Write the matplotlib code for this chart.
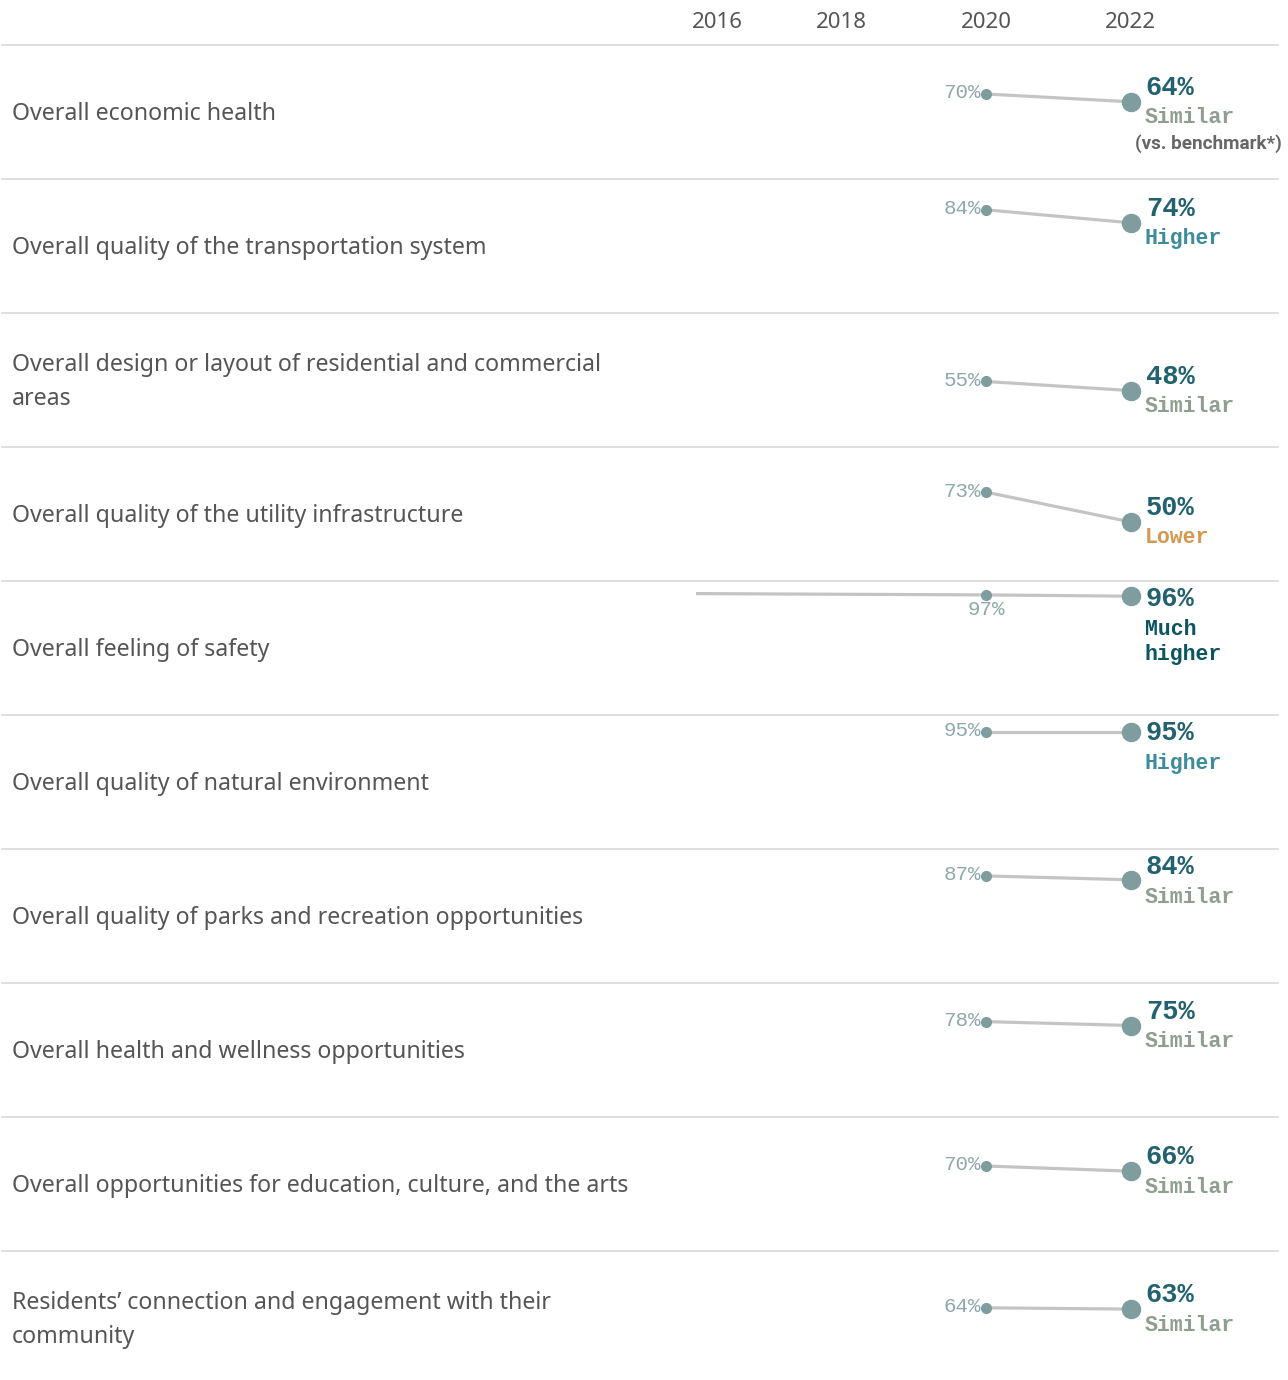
import matplotlib.pyplot as plt
from matplotlib.lines import Line2D

# data
categories = [
    "Overall economic health",
    "Overall quality of the transportation system",
    "Overall design or layout of residential and commercial\nareas",
    "Overall quality of the utility infrastructure",
    "Overall feeling of safety",
    "Overall quality of natural environment",
    "Overall quality of parks and recreation opportunities",
    "Overall health and wellness opportunities",
    "Overall opportunities for education, culture, and the arts",
    "Residents\u2019 connection and engagement with their\ncommunity",
]
v2016 = [None, None, None, None, 98, None, None, None, None, None]
v2020 = [70, 84, 55, 73, 97, 95, 87, 78, 70, 64]
v2022 = [64, 74, 48, 50, 96, 95, 84, 75, 66, 63]
status = ["Similar", "Higher", "Similar", "Lower", "Much\nhigher",
          "Higher", "Similar", "Similar", "Similar", "Similar"]
years = [2016, 2018, 2020, 2022]

status_colors = {"Similar": "#8e9f8f", "Higher": "#3d8c9c",
                 "Lower": "#d4994f", "Much\nhigher": "#0d5560"}

LINE = "#c4c4c4"
DOT = "#7f9c9e"
SMALL = "#8fa9aa"
BIG = "#22616f"
TEXT = "#555555"
SEP = "#d9d9d9"
SANS = ["Noto Sans", "DejaVu Sans"]
BOLD_SANS = ["Roboto", "DejaVu Sans"]
MONO = ["Liberation Mono", "DejaVu Sans Mono"]

W, H = 1288, 1380
fig = plt.figure(figsize=(W / 100, H / 100), dpi=100)

def px_rect(left, top, width, height):
    return [left / W, 1 - (top + height) / H, width / W, height / H]

P = 0.72  # pixels -> points at dpi 100
X0, X1 = 688, 1278
ROW_TOP, ROW_H = 45, 134
xlim = (2015.89, 2024.03)
ylim = (4.6, 107.7)

axes = []
for i, cat in enumerate(categories):
    top = ROW_TOP + i * ROW_H
    ax = fig.add_axes(px_rect(X0, top, X1 - X0, ROW_H))
    ax.set_xlim(xlim)
    ax.set_ylim(ylim)
    ax.axis("off")
    axes.append(ax)

    xs, ys = [], []
    for yr, vals in [(2016, v2016), (2020, v2020), (2022, v2022)]:
        if vals[i] is not None:
            xs.append(yr)
            ys.append(vals[i])
    ax.plot(xs, ys, color=LINE, lw=2.3, solid_capstyle="butt", zorder=1)
    ax.plot(2020, v2020[i], "o", ms=7, color=DOT, zorder=2)
    ax.plot(2022, v2022[i], "o", ms=13, color=DOT, zorder=2, clip_on=False)

    # 2020 label
    if v2016[i] is not None:
        ax.annotate(f"{v2020[i]}%", (2020, v2020[i]), xytext=(0, -15 * P),
                    textcoords="offset points", ha="center", va="center",
                    family=MONO, fontsize=15, color=SMALL)
    else:
        ax.annotate(f"{v2020[i]}%", (2020, v2020[i]), xytext=(-5 * P, 1 * P),
                    textcoords="offset points", ha="right", va="center",
                    family=MONO, fontsize=15, color=SMALL)

    # 2022 label + benchmark comparison
    pt_y = top + 140 - 1.3 * v2022[i]
    lab_y = max(pt_y - 14, top + 18)
    dy = lab_y - pt_y
    ax.annotate(f"{v2022[i]}%", (2022, v2022[i]), xytext=(15 * P, -dy * P),
                textcoords="offset points", ha="left", va="center",
                family=MONO, fontsize=19.5, fontweight="bold", color=BIG,
                annotation_clip=False)
    for j, line in enumerate(status[i].split("\n")):
        ax.annotate(line, (2022, v2022[i]),
                    xytext=(14 * P, -(dy + 30 + 25 * j) * P),
                    textcoords="offset points", ha="left", va="center",
                    family=MONO, fontsize=15.5, fontweight="bold",
                    color=status_colors[status[i]], annotation_clip=False)
    if i == 0:
        ax.annotate("(vs. benchmark*)", (2022, v2022[i]),
                    xytext=(4 * P, -(dy + 56) * P), textcoords="offset points",
                    ha="left", va="center", family=BOLD_SANS, fontsize=13.6,
                    fontweight="bold", color="#666666", annotation_clip=False)

    # row label
    fig.text(12 / W, 1 - (top + 69) / H, cat, ha="left", va="center",
             family=SANS, fontsize=16.7, color=TEXT, linespacing=1.55)

# header years
for yr in years:
    if yr - xlim[0] < 0.3:
        axes[0].annotate(str(yr), (yr, 1 - 23 / H), xycoords=("data", "figure fraction"),
                         xytext=(-4 * P, 0), textcoords="offset points",
                         ha="left", va="center", family=SANS, fontsize=16,
                         color=TEXT, annotation_clip=False)
    else:
        axes[0].annotate(str(yr), (yr, 1 - 23 / H), xycoords=("data", "figure fraction"),
                         ha="center", va="center", family=SANS, fontsize=16,
                         color=TEXT, annotation_clip=False)

# row separators
for i in range(len(categories)):
    y = 1 - (ROW_TOP + i * ROW_H) / H
    fig.add_artist(Line2D([2 / W, X1 / W], [y, y], color=SEP, lw=1.2))

fig.savefig("out.png", dpi=100)
